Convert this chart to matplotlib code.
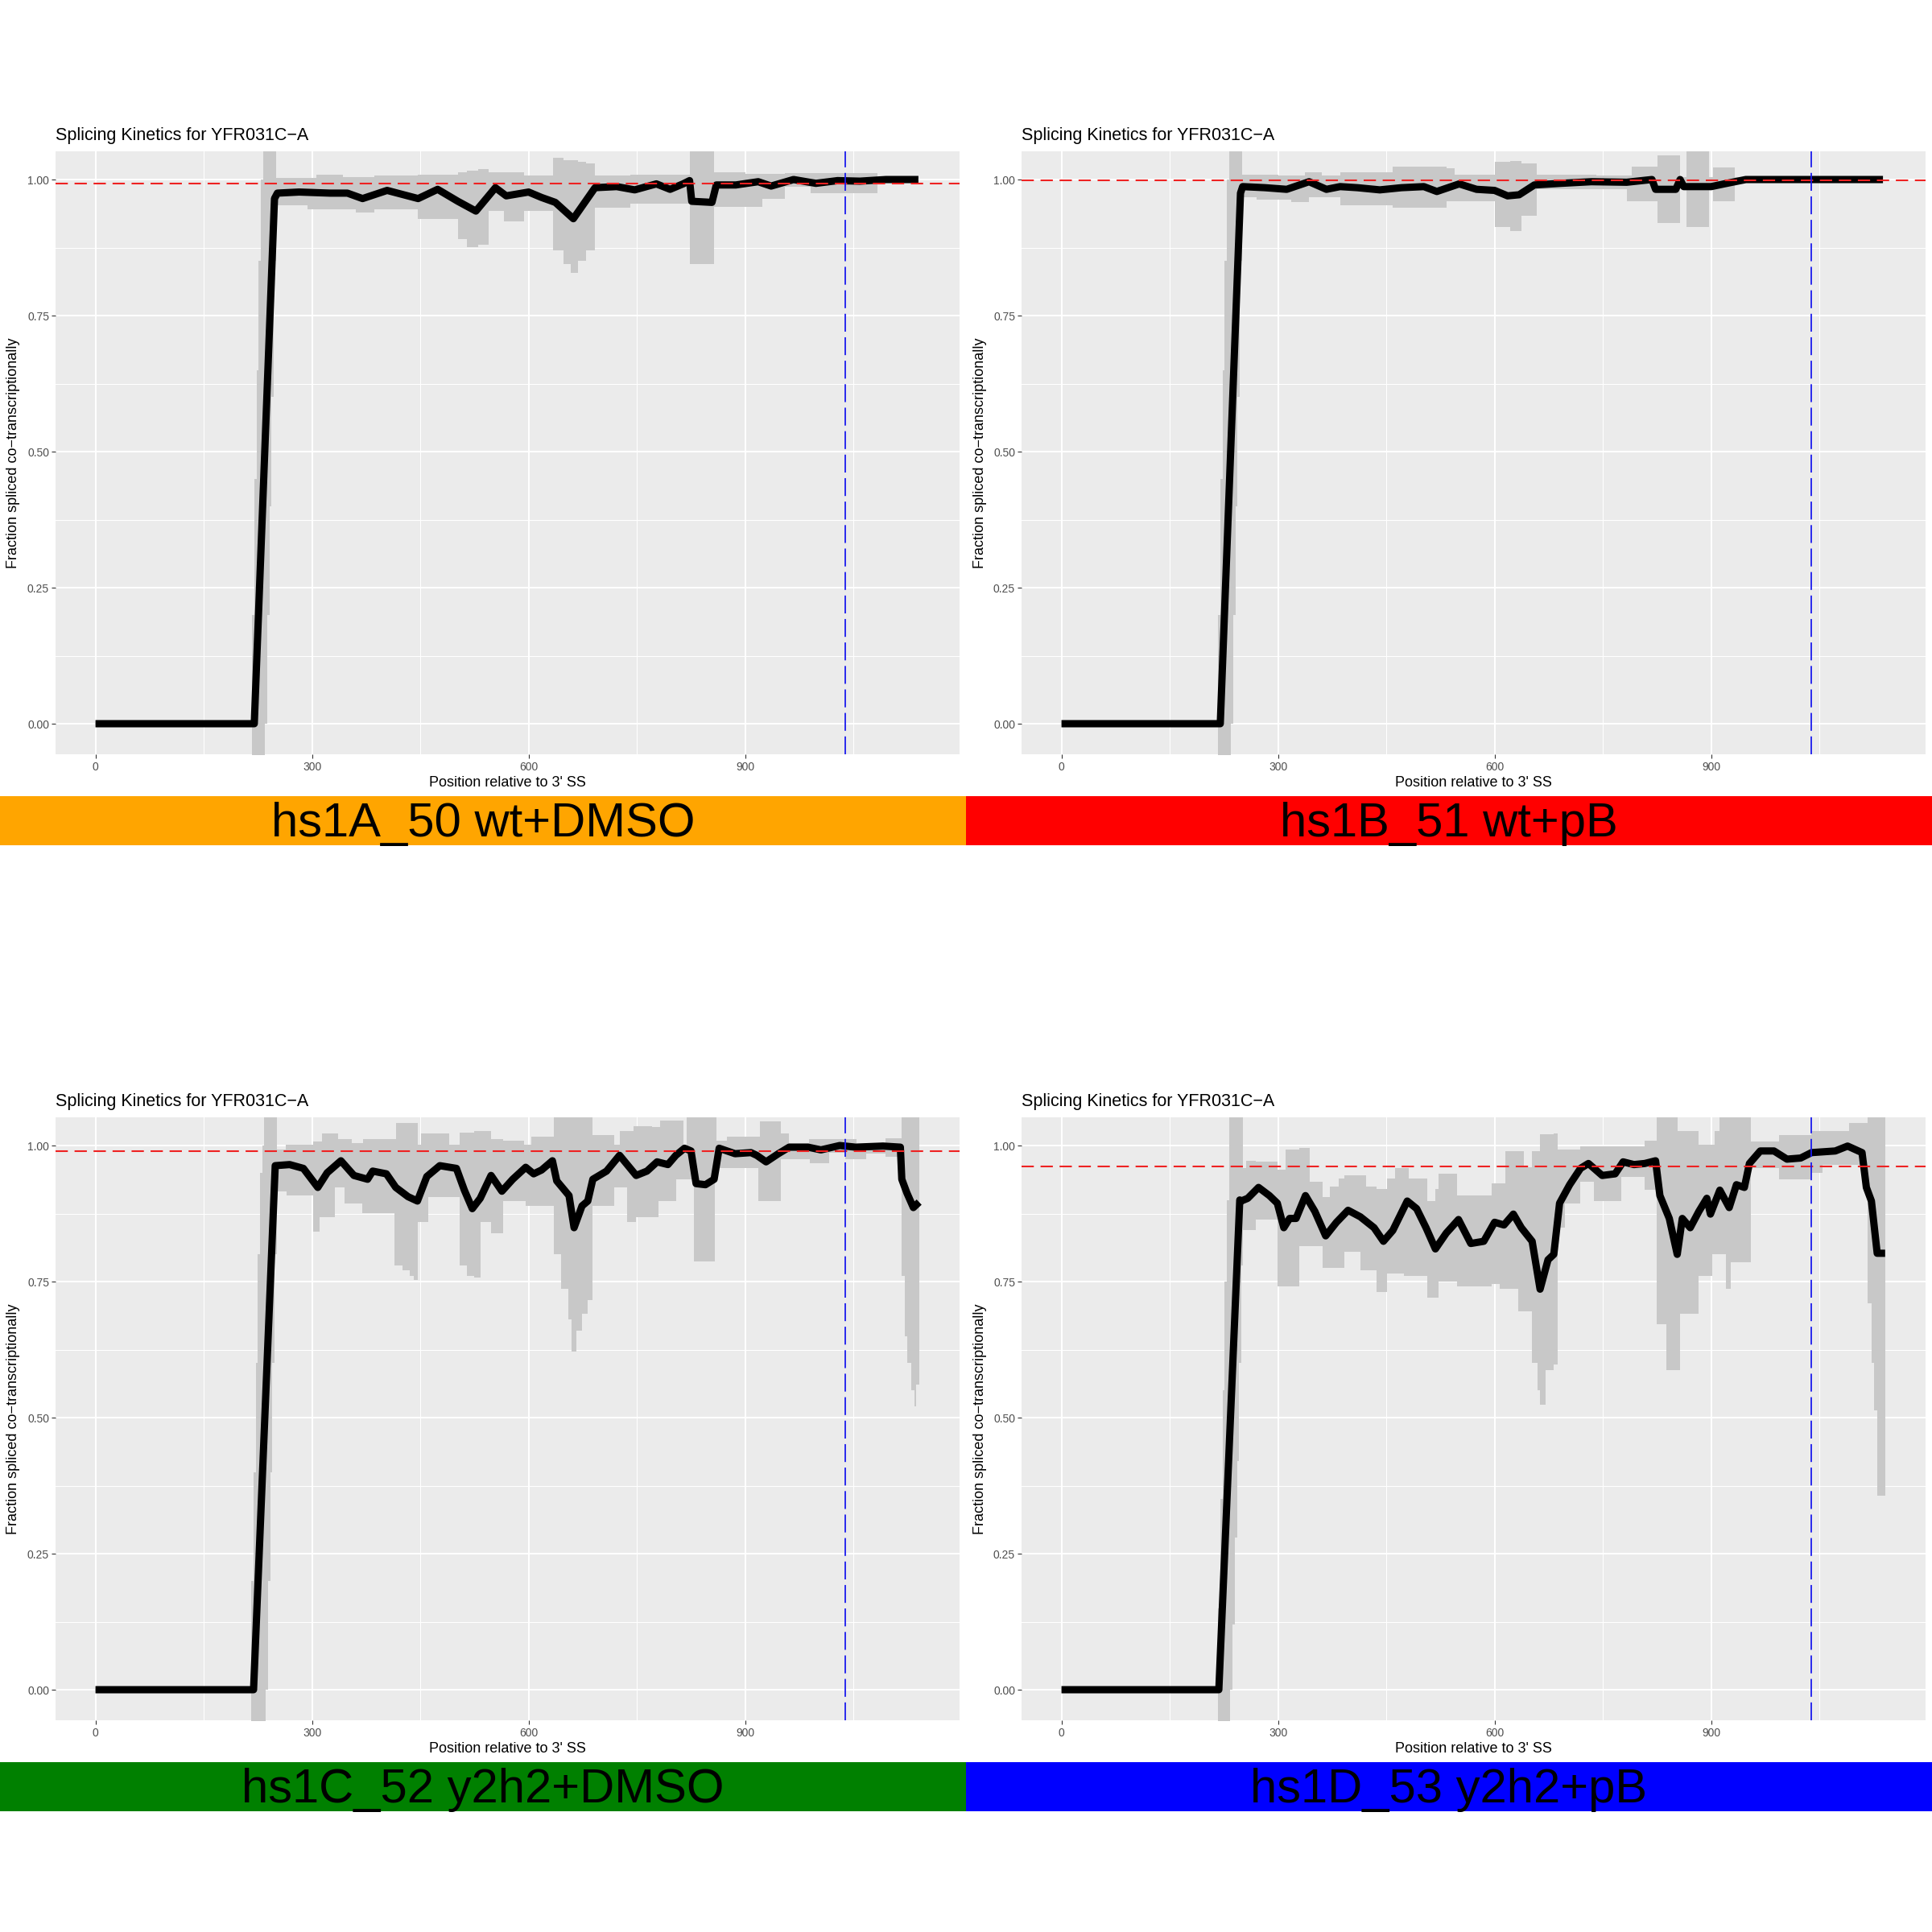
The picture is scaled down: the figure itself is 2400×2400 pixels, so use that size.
import matplotlib
matplotlib.use("Agg")
import matplotlib.pyplot as plt
from matplotlib.patches import Rectangle

plt.rcParams['font.family'] = ['Liberation Sans', 'DejaVu Sans']
plt.rcParams['lines.scale_dashes'] = False

# ---------------- data ----------------
panel_labels = ["hs1A_50 wt+DMSO", "hs1B_51 wt+pB", "hs1C_52 y2h2+DMSO", "hs1D_53 y2h2+pB"]
banner_colors = ["#FFA500", "#FF0000", "#008000", "#0000FF"]
threshold = [0.993, 0.999, 0.989, 0.961]      # red dashed line
intron_end = 1039                              # blue dashed line
x_ticks = [0, 300, 600, 900]
x_minor = [150, 450, 750, 1050]
y_ticks = [0.00, 0.25, 0.50, 0.75, 1.00]
y_minor = [0.125, 0.375, 0.625, 0.875]
title_text = "Splicing Kinetics for YFR031C\u2212A"
x_title = "Position relative to 3' SS"
y_title = "Fraction spliced co\u2212transcriptionally"

# panel A
pos_A = [0, 220, 248, 252, 282, 325, 349, 370, 404, 447, 474, 502, 527, 554, 569, 600, 618, 637, 662, 692,
         722, 747, 777, 796, 814, 823, 826, 854, 860, 887, 918, 936, 967, 998, 1028, 1059, 1095, 1140]
frac_A = [0, 0, 0.965, 0.975, 0.977, 0.975, 0.975, 0.965, 0.98, 0.965, 0.982, 0.96, 0.942, 0.985, 0.97, 0.977,
          0.967, 0.958, 0.928, 0.985, 0.987, 0.981, 0.992, 0.982, 0.992, 0.998, 0.96, 0.958, 0.99, 0.99,
          0.996, 0.988, 1.0, 0.993, 0.998, 0.997, 1.0, 1.0]
rib_x_A = [0, 217, 220, 223, 226, 229, 232, 235, 238, 241, 244, 247, 250, 294, 306, 343, 361, 386, 447, 502,
           515, 530, 545, 566, 594, 634, 648, 658, 668, 680, 692, 741, 823, 857, 900, 924, 955, 991, 1083, 1140]
rib_lo_A = [0, -0.1, -0.1, -0.1, -0.1, -0.1, -0.1, 0.0, 0.2, 0.4, 0.6, 0.85, 0.953, 0.945, 0.945, 0.945, 0.94,
            0.945, 0.928, 0.89, 0.876, 0.88, 0.943, 0.923, 0.943, 0.87, 0.845, 0.829, 0.85, 0.87, 0.948, 0.955,
            0.844, 0.95, 0.95, 0.965, 0.987, 0.975, 1.0, 1.0]
rib_hi_A = [0, 0.2, 0.45, 0.65, 0.85, 1.0, 1.1, 1.1, 1.1, 1.1, 1.1, 1.1, 1.003, 1.003, 1.009, 1.005, 1.005,
            1.007, 1.009, 1.014, 1.016, 1.019, 1.014, 1.014, 1.008, 1.04, 1.036, 1.035, 1.033, 1.03, 1.007,
            1.009, 1.1, 1.014, 1.010, 1.010, 1.012, 1.012, 1.0, 1.0]

# panel B
pos_B = [0, 220, 248, 251, 282, 312, 343, 367, 386, 410, 441, 471, 502, 520, 551, 575, 600, 618, 634, 655,
         692, 734, 783, 818, 823, 851, 857, 862, 900, 918, 948, 1000, 1060, 1138]
frac_B = [0, 0, 0.975, 0.987, 0.985, 0.982, 0.996, 0.982, 0.987, 0.985, 0.981, 0.985, 0.987, 0.978, 0.992,
          0.982, 0.98, 0.97, 0.972, 0.99, 0.993, 0.996, 0.995, 1.0, 0.982, 0.982, 1.0, 0.987, 0.987, 0.992,
          1.0, 1.0, 1.0, 1.0]
rib_x_B = [0, 217, 220, 223, 226, 229, 232, 235, 238, 241, 244, 247, 250, 270, 300, 318, 337, 343, 361, 386,
           459, 533, 545, 600, 622, 637, 658, 741, 783, 790, 826, 857, 866, 897, 903, 933, 1138]
rib_lo_B = [0, -0.1, -0.1, -0.1, -0.1, -0.1, -0.1, 0.0, 0.2, 0.4, 0.6, 0.85, 0.967, 0.963, 0.963, 0.958,
            0.958, 0.967, 0.967, 0.953, 0.948, 0.96, 0.96, 0.913, 0.905, 0.933, 0.982, 0.982, 0.96, 0.96,
            0.92, 0.99, 0.913, 0.99, 0.96, 0.995, 0.995]
rib_hi_B = [0, 0.2, 0.45, 0.65, 0.85, 1.0, 1.1, 1.1, 1.1, 1.1, 1.1, 1.1, 1.009, 1.009, 1.007, 1.007, 1.014,
            1.014, 1.007, 1.014, 1.024, 1.02, 1.009, 1.032, 1.034, 1.03, 1.009, 1.007, 1.007, 1.024, 1.044,
            1.004, 1.1, 1.004, 1.022, 1.004, 1.004]

# panel C
pos_C = [0, 219, 249, 269, 288, 308, 321, 340, 358, 377, 384, 403, 416, 433, 446, 459, 477, 500, 511, 522,
         533, 548, 563, 578, 596, 607, 618, 633, 639, 656, 663, 674, 682, 689, 708, 726, 749, 764, 778, 793,
         804, 816, 825, 832, 845, 857, 864, 886, 908, 916, 929, 946, 961, 987, 1005, 1031, 1053, 1091, 1115,
         1117, 1124, 1133, 1141]
frac_C = [0, 0, 0.963, 0.965, 0.958, 0.923, 0.95, 0.972, 0.945, 0.938, 0.953, 0.948, 0.923, 0.906, 0.898,
          0.943, 0.963, 0.958, 0.918, 0.884, 0.903, 0.945, 0.916, 0.938, 0.96, 0.948, 0.955, 0.972, 0.935,
          0.908, 0.849, 0.889, 0.898, 0.938, 0.953, 0.982, 0.945, 0.953, 0.97, 0.965, 0.982, 0.995, 0.99,
          0.93, 0.928, 0.938, 0.995, 0.985, 0.987, 0.982, 0.97, 0.985, 0.997, 0.997, 0.992, 1.0, 0.997,
          0.999, 0.997, 0.938, 0.913, 0.886, 0.896]
rib_x_C = [0, 216, 219, 222, 225, 228, 231, 234, 236, 239, 242, 245, 248, 251, 264, 265, 301, 310, 314, 332,
           336, 345, 355, 370, 371, 414, 416, 425, 435, 441, 446, 451, 461, 490, 505, 515, 525, 533, 548, 565,
           594, 596, 604, 635, 645, 655, 660, 666, 674, 682, 689, 719, 726, 736, 745, 749, 771, 780, 782, 805,
           814, 819, 829, 858, 860, 864, 875, 918, 920, 949, 961, 989, 990, 1016, 1039, 1054, 1068, 1094, 1117,
           1121, 1125, 1130, 1134, 1137, 1141]
rib_lo_C = [0, -0.1, -0.1, -0.1, -0.1, -0.1, -0.1, -0.1, 0.0, 0.2, 0.4, 0.6, 0.8, 0.916, 0.916, 0.908, 0.842,
            0.869, 0.869, 0.923, 0.923, 0.894, 0.894, 0.876, 0.876, 0.78, 0.78, 0.77, 0.76, 0.753, 0.859,
            0.859, 0.906, 0.906, 0.78, 0.76, 0.757, 0.859, 0.839, 0.898, 0.898, 0.889, 0.889, 0.80, 0.736,
            0.68, 0.622, 0.66, 0.691, 0.716, 0.889, 0.923, 0.923, 0.859, 0.859, 0.869, 0.869, 0.898, 0.898,
            0.938, 0.938, 0.938, 0.787, 0.967, 0.967, 0.958, 0.958, 0.898, 0.898, 0.975, 0.975, 0.975, 0.967,
            0.987, 0.975, 0.975, 0.985, 0.98, 0.76, 0.65, 0.6, 0.55, 0.521, 0.56, 0.56]
rib_hi_C = [0, 0.2, 0.4, 0.6, 0.8, 0.95, 1.0, 1.1, 1.1, 1.1, 1.1, 1.1, 1.1, 0.992, 1.002, 1.002, 1.007,
            1.007, 1.022, 1.022, 1.012, 1.012, 1.004, 1.004, 1.012, 1.012, 1.041, 1.041, 1.041, 1.041, 1.002,
            1.022, 1.022, 1.002, 1.024, 1.024, 1.027, 1.027, 1.012, 1.009, 1.002, 1.002, 1.017, 1.1, 1.1,
            1.1, 1.1, 1.1, 1.1, 1.1, 1.019, 1.002, 1.027, 1.027, 1.036, 1.036, 1.034, 1.034, 1.046, 1.046,
            0.99, 1.1, 1.1, 1.1, 1.009, 1.009, 1.017, 1.017, 1.044, 1.022, 1.004, 1.012, 1.012, 1.012, 1.012,
            1.002, 1.002, 1.014, 1.1, 1.1, 1.1, 1.1, 1.1, 1.1, 1.1]

# panel D
pos_D = [0, 218, 247, 249, 258, 273, 288, 299, 308, 316, 325, 338, 351, 366, 381, 397, 414, 433, 446, 459,
         479, 492, 505, 518, 533, 550, 567, 585, 600, 613, 626, 637, 652, 663, 674, 682, 690, 704, 719, 730,
         749, 767, 778, 793, 808, 823, 829, 842, 853, 860, 871, 883, 894, 899, 912, 925, 935, 946, 953, 968,
         987, 1005, 1024, 1039, 1072, 1089, 1109, 1115, 1122, 1126, 1130, 1141]
frac_D = [0, 0, 0.90, 0.898, 0.903, 0.923, 0.908, 0.894, 0.849, 0.866, 0.866, 0.908, 0.879, 0.834, 0.859,
          0.881, 0.869, 0.849, 0.824, 0.844, 0.898, 0.884, 0.849, 0.81, 0.839, 0.864, 0.82, 0.824, 0.859,
          0.854, 0.874, 0.849, 0.824, 0.736, 0.79, 0.80, 0.894, 0.928, 0.958, 0.967, 0.945, 0.948, 0.97,
          0.965, 0.967, 0.972, 0.908, 0.866, 0.80, 0.866, 0.849, 0.879, 0.903, 0.874, 0.918, 0.886, 0.928,
          0.923, 0.967, 0.99, 0.99, 0.975, 0.977, 0.987, 0.99, 0.999, 0.987, 0.923, 0.898, 0.85, 0.802, 0.802]
rib_x_D = [0, 217, 220, 223, 226, 229, 232, 234, 237, 240, 243, 246, 249, 251, 256, 269, 299, 310, 329, 344,
           362, 372, 384, 392, 414, 422, 436, 451, 462, 474, 481, 507, 518, 522, 548, 596, 607, 615, 633, 641,
           652, 659, 663, 671, 682, 687, 697, 719, 738, 775, 808, 825, 838, 853, 857, 883, 901, 905, 912, 920,
           927, 955, 994, 1039, 1054, 1091, 1113, 1117, 1122, 1126, 1130, 1141]
rib_lo_D = [0, -0.1, -0.1, -0.1, -0.1, -0.1, -0.1, 0.0, 0.12, 0.28, 0.42, 0.6, 0.78, 0.844, 0.844, 0.864,
            0.741, 0.741, 0.815, 0.815, 0.775, 0.775, 0.775, 0.805, 0.77, 0.77, 0.731, 0.765, 0.765, 0.76,
            0.76, 0.721, 0.721, 0.75, 0.741, 0.746, 0.736, 0.736, 0.696, 0.696, 0.6, 0.55, 0.524, 0.588,
            0.598, 0.849, 0.894, 0.933, 0.898, 0.943, 0.918, 0.672, 0.588, 0.588, 0.691, 0.76, 0.80, 0.80,
            0.80, 0.736, 0.785, 0.958, 0.938, 0.950, 0.965, 0.965, 0.908, 0.71, 0.6, 0.514, 0.356, 0.356]
rib_hi_D = [0, 0.15, 0.35, 0.55, 0.75, 0.9, 1.1, 1.1, 1.1, 1.1, 1.1, 1.1, 1.1, 0.958, 0.972, 0.970, 0.955,
            0.992, 0.995, 0.933, 0.905, 0.925, 0.94, 0.945, 0.945, 0.925, 0.92, 0.94, 0.958, 0.958, 0.94,
            0.898, 0.92, 0.948, 0.908, 0.93, 0.93, 0.99, 0.99, 0.96, 0.99, 0.99, 1.02, 1.02, 1.022, 0.992,
            0.992, 0.999, 0.999, 0.999, 1.009, 1.1, 1.1, 1.027, 1.027, 1.002, 1.002, 1.027, 1.1, 1.1, 1.1,
            1.007, 1.019, 1.027, 1.027, 1.041, 1.041, 1.1, 1.1, 1.1, 1.1, 1.1]

panels = [
    (pos_A, frac_A, rib_x_A, rib_lo_A, rib_hi_A),
    (pos_B, frac_B, rib_x_B, rib_lo_B, rib_hi_B),
    (pos_C, frac_C, rib_x_C, rib_lo_C, rib_hi_C),
    (pos_D, frac_D, rib_x_D, rib_lo_D, rib_hi_D),
]

# ---------------- layout ----------------
W = H = 2400.0
fig = plt.figure(figsize=(24, 24), dpi=100, facecolor='white')


def fxp(px):
    return px / W


def fyp(py):
    return 1.0 - py / H


CELL = 1200
P_L, P_R, P_T, P_B = 69, 1192, 188, 937

for i, (xs, ys, rx, rlo, rhi) in enumerate(panels):
    c, r = i % 2, i // 2
    ox, oy = CELL * c, CELL * r
    ax = fig.add_axes([fxp(ox + P_L), fyp(oy + P_B), (P_R - P_L) / W, (P_B - P_T) / H])
    ax.set_facecolor('#EBEBEB')
    ax.set_xlim(-55.3, 1197)
    ax.set_ylim(-0.0562, 1.0518)
    ax.set_xticks(x_ticks)
    ax.set_xticklabels([str(v) for v in x_ticks])
    ax.set_xticks(x_minor, minor=True)
    ax.set_yticks(y_ticks)
    ax.set_yticklabels(["%.2f" % v for v in y_ticks])
    ax.set_yticks(y_minor, minor=True)
    ax.set_axisbelow(True)
    ax.grid(which='major', color='white', linewidth=1.5)
    ax.grid(which='minor', color='white', linewidth=0.75)
    ax.tick_params(which='minor', length=0)
    ax.tick_params(which='major', length=3.5, width=0.8, color='#333333',
                   labelsize=10, labelcolor='#4D4D4D')
    ax.tick_params(axis='x', pad=3.2)
    ax.tick_params(axis='y', pad=2.2)
    for s in ax.spines.values():
        s.set_visible(False)

    ax.fill_between(rx, rlo, rhi, step='post', color='#C8C8C8', linewidth=0, zorder=1)
    ax.plot(xs, ys, color='black', linewidth=6.5, solid_joinstyle='round',
            solid_capstyle='butt', zorder=3)
    ax.axhline(threshold[i], color='#EE2222', linewidth=1.5, linestyle=(0, (11, 6)), zorder=4)
    ax.axvline(intron_end, color='#1A1AEE', linewidth=1.3, linestyle=(0, (16, 5)), zorder=4)

    # texts
    fig.text(fxp(ox + P_L), fyp(oy + 174), title_text, fontsize=15.5, ha='left', va='baseline',
             color='black')
    fig.text(fxp(ox + (P_L + P_R) / 2), fyp(oy + 977), x_title, fontsize=13, ha='center',
             va='baseline', color='black')
    fig.text(fxp(ox + 17), fyp(oy + (P_T + P_B) / 2), y_title, fontsize=13, rotation=90,
             ha='center', va='center', color='black')

    # banner
    fig.add_artist(Rectangle((fxp(ox), fyp(oy + 1050)), CELL / W, 61 / H,
                             transform=fig.transFigure, facecolor=banner_colors[i],
                             edgecolor='none', zorder=0))
    fig.text(fxp(ox + CELL / 2), fyp(oy + 1039), panel_labels[i], fontsize=43,
             ha='center', va='baseline', color='black', zorder=2)

fig.savefig('out.png', dpi=100, facecolor='white')
